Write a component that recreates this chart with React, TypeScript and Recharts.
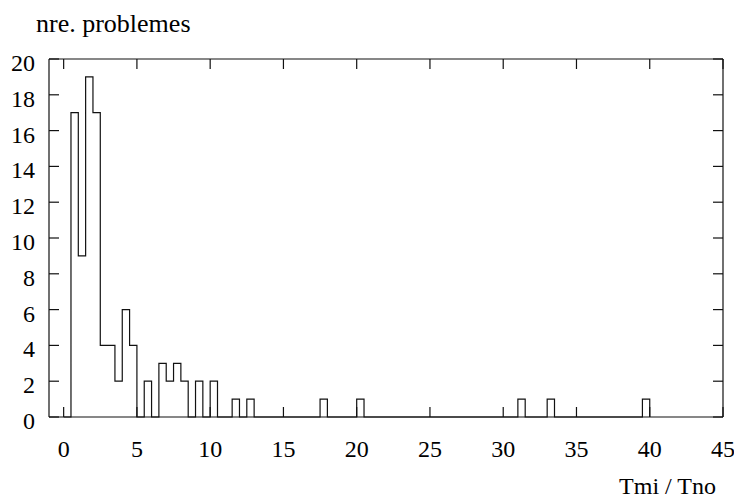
import { LineChart, Line, XAxis, YAxis } from "recharts";

// histogram of problem counts, bins 0.5 wide (only the non-empty ones)
const binWidth = 0.5;
const binStarts = [0.5, 1, 1.5, 2, 2.5, 3, 3.5, 4, 4.5, 5.5, 6.5, 7, 7.5, 8, 9, 10, 11.5, 12.5, 17.5, 20, 31, 33, 39.5];
const binCounts = [17, 9, 19, 17, 4, 4, 2, 6, 4, 2, 3, 2, 3, 2, 2, 2, 1, 1, 1, 1, 1, 1, 1];

const xTicks = [0, 5, 10, 15, 20, 25, 30, 35, 40, 45];
const yTicks = [0, 2, 4, 6, 8, 10, 12, 14, 16, 18, 20];

const FONT = '"Liberation Serif", "DejaVu Serif", serif';
const INK = "#111";
const TICK_LEN = 10;

// step outline: every bin opens at its left edge, gaps fall back to zero
const steps: { x: number; y: number }[] = [];
let edge = 0;
binStarts.forEach((start, i) => {
  if (start !== edge) steps.push({ x: edge, y: 0 });
  steps.push({ x: start, y: binCounts[i] });
  edge = start + binWidth;
});
steps.push({ x: edge, y: 0 });

const BottomTick = ({ x, y, payload }: any) => (
  <g>
    <line x1={x} y1={y} x2={x} y2={y - TICK_LEN} stroke={INK} strokeWidth={1.2} />
    <text x={x} y={y + 40} textAnchor="middle" fontFamily={FONT} fontSize={24} fill="#000">
      {payload.value}
    </text>
  </g>
);

const LeftTick = ({ x, y, payload }: any) => (
  <g>
    <line x1={x} y1={y} x2={x + TICK_LEN} y2={y} stroke={INK} strokeWidth={1.2} />
    <text x={x - 14} y={y + 12} textAnchor="end" fontFamily={FONT} fontSize={24} fill="#000">
      {payload.value}
    </text>
  </g>
);

const TopTick = ({ x, y }: any) => (
  <line x1={x} y1={y} x2={x} y2={y + TICK_LEN} stroke={INK} strokeWidth={1.2} />
);

const RightTick = ({ x, y }: any) => (
  <line x1={x} y1={y} x2={x - TICK_LEN} y2={y} stroke={INK} strokeWidth={1.2} />
);

export default function App() {
  return (
    <div style={{ position: "absolute", left: 0, top: 0, width: 734, height: 500, background: "#fff" }}>
      <LineChart width={734} height={500} data={steps} margin={{ top: 58, right: 10, left: 0, bottom: 0 }}>
        <XAxis
          dataKey="x"
          type="number"
          domain={[-1, 45]}
          ticks={xTicks}
          allowDataOverflow
          height={83}
          tickSize={0}
          tickMargin={0}
          tick={<BottomTick />}
          axisLine={{ stroke: INK, strokeWidth: 1.2 }}
          tickLine={false}
        />
        <XAxis
          xAxisId="top"
          dataKey="x"
          orientation="top"
          type="number"
          domain={[-1, 45]}
          ticks={xTicks}
          allowDataOverflow
          height={1}
          tickSize={0}
          tickMargin={0}
          tick={<TopTick />}
          axisLine={{ stroke: INK, strokeWidth: 1.2 }}
          tickLine={false}
        />
        <YAxis
          type="number"
          domain={[0, 20]}
          ticks={yTicks}
          width={49}
          tickSize={0}
          tickMargin={0}
          tick={<LeftTick />}
          axisLine={{ stroke: INK, strokeWidth: 1.2 }}
          tickLine={false}
        />
        <YAxis
          yAxisId="right"
          orientation="right"
          type="number"
          domain={[0, 20]}
          ticks={yTicks}
          width={1}
          tickSize={0}
          tickMargin={0}
          tick={<RightTick />}
          axisLine={{ stroke: INK, strokeWidth: 1.2 }}
          tickLine={false}
        />
        {/* unstroked copy so the mirrored top/right frame axes get drawn */}
        <Line
          xAxisId="top"
          yAxisId="right"
          type="stepAfter"
          dataKey="y"
          stroke="none"
          dot={false}
          activeDot={false}
          isAnimationActive={false}
        />
        <Line
          type="stepAfter"
          dataKey="y"
          stroke={INK}
          strokeWidth={1.2}
          dot={false}
          isAnimationActive={false}
        />
      </LineChart>
      <svg width={734} height={500} style={{ position: "absolute", left: 0, top: 0, pointerEvents: "none" }}>
        <text x={36} y={32} fontFamily={FONT} fontSize={26} fill="#000">
          nre. problemes
        </text>
        <text x={716} y={494} textAnchor="end" fontFamily={FONT} fontSize={24} fill="#000">
          Tmi / Tno
        </text>
      </svg>
    </div>
  );
}
